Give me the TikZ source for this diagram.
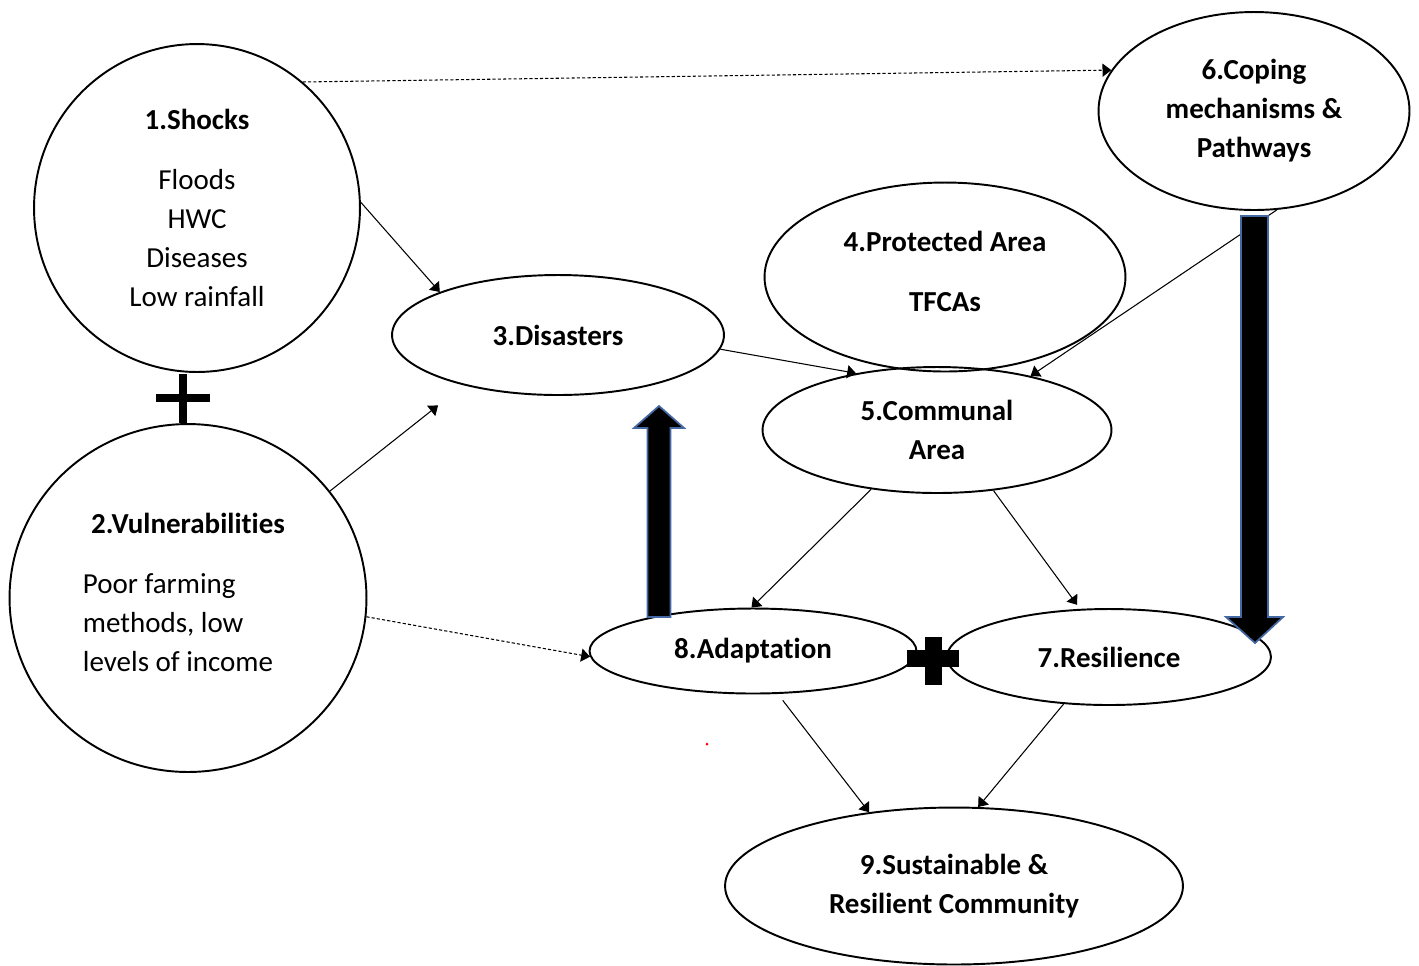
\documentclass[tikz,border=0pt]{standalone}
\usepackage{fontspec}
\setmainfont{Carlito}[Ligatures=NoCommon]
\usetikzlibrary{shapes.geometric,arrows.meta}
\tikzset{>={Triangle[length=5pt,width=7.5pt]}}
\definecolor{clb}{RGB}{68,104,164}
\tikzset{
  bubble/.style 2 args={draw, ellipse, inner sep=0pt, line width=1.1pt,
    minimum width=#1, minimum height=#2, align=center,
    font=\fontsize{16.5}{22.2}\selectfont},
  heavy/.style={font=\fontsize{16.5}{22.2}\selectfont\bfseries},
  link/.style={->, line width=0.6pt},
  dlink/.style={link, dash pattern=on 1.8pt off 1.2pt},
  blockarrow/.style={fill=black, draw=clb, line width=1pt, line join=miter},
}

\begin{document}
\begin{tikzpicture}[x=0.02cm, y=-0.02cm]
    \useasboundingbox (0,0) rectangle (1419,965);
    \node[bubble={6.52cm}{6.56cm}] (shk) at (197,208)
        {\textbf{1.Shocks}\\[0.42cm] Floods\\ HWC\\ Diseases\\ Low rainfall};
    \node[bubble={7.14cm}{6.96cm}] (vul) at (188,598)
        {\textbf{2.Vulnerabilities}\\[0.42cm]
         \hspace*{-0.4cm}\begin{tabular}[t]{@{}l@{}}Poor farming\\ methods, low\\ levels of income\end{tabular}};
    \node[bubble={6.64cm}{2.4cm}, heavy] (dis) at (558,335) {3.Disasters};
    \node[bubble={7.22cm}{3.78cm}, heavy] (pro) at (945,277) {4.Protected Area\\[0.42cm] TFCAs\\[-0.54cm]};
    \node[bubble={6.98cm}{2.52cm}, heavy] (com) at (937,430) {5.Communal\\ Area};
    \node[bubble={6.22cm}{3.96cm}, heavy] (cop) at (1254,111) {6.Coping\\ mechanisms \&\\ Pathways};
    \node[bubble={6.48cm}{1.92cm}, heavy] (res) at (1109,657) {7.Resilience};
    \node[bubble={6.54cm}{1.7cm}, heavy] (ada) at (753,651) {8.Adaptation};
    \node[bubble={9.16cm}{3.14cm}, heavy] (sus) at (954,886) {9.Sustainable \&\\ Resilient Community};
    % thin links
    \draw[link] (shk.2) -- (dis.160);
    \draw[link, shorten >=0.65cm] (vul.37) -- (dis.208);
    \draw[link] (dis.355) -- (com.145);
    \draw[link] (cop.283) -- (com.30);
    \draw[link] (com.222) -- (ada.92);
    \draw[link, shorten >=0.1cm] (com.313) -- (res.121);
    \draw[link, shorten <=0.16cm] (ada.300) -- (sus.139);
    \draw[link] (res.226) -- (sus.73);
    \draw[dlink] (shk.50) -- (cop.164);
    \draw[dlink] (vul.354) -- (ada.182);
    % block arrows
    \draw[blockarrow] (647.5,617) -- (647.5,428) -- (634,428) -- (659,406) -- (684,428)
        -- (670.5,428) -- (670.5,617) -- cycle;
    \draw[blockarrow] (1241,216) -- (1241,617) -- (1226,617) -- (1255,643) -- (1283,617)
        -- (1268,617) -- (1268,216) -- cycle;
    % plus signs
    \draw[line width=0.16cm] (156,398) -- (210,398) (183,374) -- (183,423);
    \draw[line width=0.34cm] (907,658) -- (959,658) (933,637) -- (933,685);
    \fill[red] (707,744) circle (0.03cm);
\end{tikzpicture}
\end{document}
